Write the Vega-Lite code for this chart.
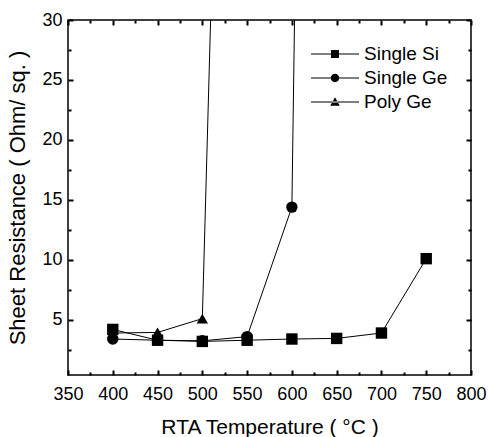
{
  "$schema": "https://vega.github.io/schema/vega-lite/v6.json",
  "width": 403,
  "height": 355,
  "autosize": "none",
  "padding": {"left": 68, "top": 20, "right": 17, "bottom": 62},
  "background": "white",
  "config": {"view": {"stroke": "black", "strokeWidth": 1.5}, "font": "Liberation Sans", "axis": {"zindex": 2, "ticks": true, "tickOpacity": 1}},
  "data": {"values": [
    {"series": "Single Si", "temp": 400, "r": 4.2},
    {"series": "Single Si", "temp": 450, "r": 3.3},
    {"series": "Single Si", "temp": 500, "r": 3.2},
    {"series": "Single Si", "temp": 550, "r": 3.3},
    {"series": "Single Si", "temp": 600, "r": 3.4},
    {"series": "Single Si", "temp": 650, "r": 3.45},
    {"series": "Single Si", "temp": 700, "r": 3.9},
    {"series": "Single Si", "temp": 750, "r": 10.1},
    {"series": "Single Ge", "temp": 400, "r": 3.4},
    {"series": "Single Ge", "temp": 450, "r": 3.3},
    {"series": "Single Ge", "temp": 500, "r": 3.25},
    {"series": "Single Ge", "temp": 550, "r": 3.6},
    {"series": "Single Ge", "temp": 600, "r": 14.4},
    {"series": "Single Ge", "temp": 650, "r": 280},
    {"series": "Poly Ge", "temp": 400, "r": 3.9},
    {"series": "Poly Ge", "temp": 450, "r": 3.95},
    {"series": "Poly Ge", "temp": 500, "r": 5.1},
    {"series": "Poly Ge", "temp": 550, "r": 140}
  ]},
  "layer": [
    {
      "mark": {"type": "line", "color": "black", "strokeWidth": 1, "clip": true},
      "encoding": {
        "x": {"field": "temp", "type": "quantitative", "scale": {"domain": [350, 800], "nice": false, "zero": false},
          "axis": {"orient": "bottom", "offset": -5, "values": [350,400,450,500,550,600,650,700,750,800], "ticks": true,
            "tickSize": 5, "tickColor": "#000000", "tickWidth": 2, "labelFontSize": 18, "labelColor": "black", "labelPadding": 10,
            "labelFlush": false, "domain": false, "grid": false,
            "title": "RTA Temperature ( °C )", "titleFontSize": 21, "titleFontWeight": "normal", "titleColor": "black", "titlePadding": 13}},
        "y": {"field": "r", "type": "quantitative", "scale": {"domain": [0.4, 30], "nice": false, "zero": false},
          "axis": {"orient": "left", "offset": -5, "values": [5,10,15,20,25,30], "ticks": true,
            "tickSize": 5, "tickColor": "#000000", "tickWidth": 2, "labelFontSize": 18, "labelColor": "black", "labelPadding": 6,
            "labelFlush": false, "domain": false, "grid": false,
            "title": "Sheet Resistance ( Ohm/ sq. )", "titleFontSize": 22, "titleFontWeight": "normal", "titleColor": "black", "titlePadding": 12}},
        "detail": {"field": "series"}
      }
    },
    {
      "mark": {"type": "point", "filled": true, "color": "black", "size": 130, "opacity": 1, "clip": true},
      "encoding": {
        "x": {"field": "temp", "type": "quantitative",
          "axis": {"orient": "top", "offset": -5, "values": [350,400,450,500,550,600,650,700,750,800], "ticks": true,
            "labels": false, "title": null, "domain": false, "grid": false,
            "tickSize": 5, "tickColor": "#000000", "tickWidth": 2}},
        "y": {"field": "r", "type": "quantitative",
          "axis": {"orient": "right", "offset": -5, "values": [5,10,15,20,25,30], "ticks": true,
            "labels": false, "title": null, "domain": false, "grid": false,
            "tickSize": 5, "tickColor": "#000000", "tickWidth": 2}},
        "shape": {"field": "series", "type": "nominal",
          "scale": {"domain": ["Single Si", "Single Ge", "Poly Ge"], "range": ["square", "circle", "triangle-up"]},
          "legend": null}
      }
    },
    {
      "transform": [{"filter": "datum.temp < 0"}],
      "mark": {"type": "point", "filled": true, "color": "black", "opacity": 1},
      "encoding": {
        "x": {"field": "temp", "type": "quantitative",
          "axis": {"orient": "bottom", "offset": -3, "values": [375,425,475,525,575,625,675,725,775], "ticks": true,
            "labels": false, "title": null, "domain": false, "grid": false,
            "tickSize": 3, "tickColor": "#000000", "tickWidth": 2}},
        "y": {"field": "r", "type": "quantitative",
          "axis": {"orient": "left", "offset": -3, "values": [2.5,7.5,12.5,17.5,22.5,27.5], "ticks": true,
            "labels": false, "title": null, "domain": false, "grid": false,
            "tickSize": 3, "tickColor": "#000000", "tickWidth": 2}},
        "shape": {"field": "series", "type": "nominal",
          "scale": {"domain": ["Single Si", "Single Ge", "Poly Ge"],
            "range": [
              "M-2,-0.05H2V0.05H-2ZM-0.33,-0.33H0.33V0.33H-0.33Z",
              "M-2,-0.05H2V0.05H-2ZM-0.35,0A0.35,0.35 0 1,1 0.35,0A0.35,0.35 0 1,1 -0.35,0Z",
              "M-2,-0.05H2V0.05H-2ZM-0.4,0.32L0.4,0.32L0,-0.4Z"
            ]},
          "legend": {"orient": "none", "legendX": 254, "legendY": 21, "title": null, "labelFontSize": 19, "labelColor": "black",
            "symbolSize": 576, "symbolFillColor": "black", "symbolOpacity": 1,
            "labelOffset": 16, "padding": 0, "rowPadding": 1}}
      }
    },
    {
      "transform": [{"filter": "datum.temp < 0"}],
      "mark": {"type": "point", "filled": true, "color": "black"},
      "encoding": {
        "x": {"field": "temp", "type": "quantitative",
          "axis": {"orient": "top", "offset": -3, "values": [375,425,475,525,575,625,675,725,775], "ticks": true,
            "labels": false, "title": null, "domain": false, "grid": false,
            "tickSize": 3, "tickColor": "#000000", "tickWidth": 2}},
        "y": {"field": "r", "type": "quantitative",
          "axis": {"orient": "right", "offset": -3, "values": [2.5,7.5,12.5,17.5,22.5,27.5], "ticks": true,
            "labels": false, "title": null, "domain": false, "grid": false,
            "tickSize": 3, "tickColor": "#000000", "tickWidth": 2}}
      }
    }
  ],
  "resolve": {"scale": {"shape": "independent"}, "axis": {"x": "independent", "y": "independent"}}
}
